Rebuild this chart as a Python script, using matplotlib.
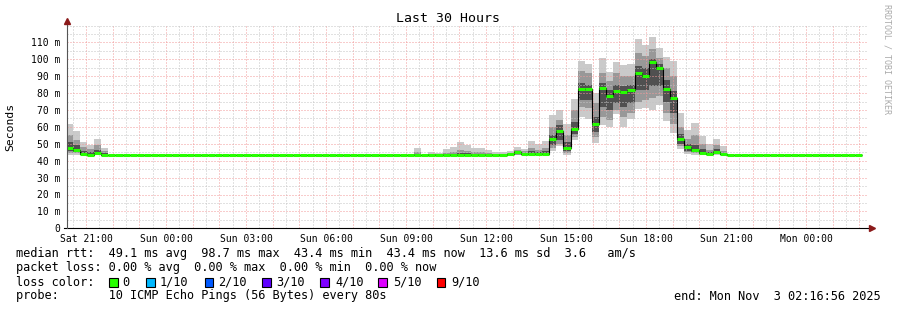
import numpy as np
import matplotlib
matplotlib.use("Agg")
import matplotlib.pyplot as plt
from matplotlib.patches import Rectangle

plt.rcParams["font.family"] = ["DejaVu Sans Mono"]

# --- time axis: hours since Sat 00:00, 30 hours ending Mon 02:16:56 ----------
T_START = 20 + 16 / 60 + 56 / 3600
T_END = T_START + 30
STEP_H = 16 / 60          # 960 s consolidated rows
FIRST_EDGE = 20.5

tick_hours = [21, 24, 27, 30, 33, 36, 39, 42, 45, 48]
tick_labels = ["Sat 21:00", "Sun 00:00", "Sun 03:00", "Sun 06:00", "Sun 09:00",
               "Sun 12:00", "Sun 15:00", "Sun 18:00", "Sun 21:00", "Mon 00:00"]

# --- median rtt per row (ms), 112 rows -------------------------------------
median = ([47.7, 46.3, 43.9, 43.6, 44.6, 43.6]
          + [43.4] * 43
          + [43.4, 43.4, 43.4, 43.4, 43.4, 43.4, 43.4, 43.4, 43.4, 43.4,
             43.4, 43.4, 43.4, 43.8, 45.0, 43.9, 44.0, 44.0, 44.0]
          + [52.8, 57.8, 47.4, 59.0, 82.7, 82.7, 61.6, 83.1, 78.4, 81.0,
             80.7, 81.8, 92.0, 90.2, 98.4, 95.0, 82.5, 76.9, 52.7, 48.2,
             46.3, 44.8, 43.8, 45.1, 43.7]
          + [43.4] * 19)

# --- smoke (rows that have spread), ms -------------------------------------
smoke_rows = [0, 1, 2, 3, 4, 5, 49] + list(range(51, 93))
ping_hi = [61.5, 57.8, 51.3, 49.3, 52.7, 47.3, 47.7,
           45.0, 44.8, 46.9, 47.9, 51.2, 49.3, 47.7, 47.7, 46.3, 45.0, 45.0,
           45.6, 48.1, 47.1, 51.6, 49.9, 51.6,
           67.0, 70.0, 61.7, 76.5, 99.2, 97.0, 79.9, 100.8, 92.5, 98.4,
           96.4, 97.0, 112.0, 108.5, 113.0, 106.5, 101.2, 99.0, 68.0, 58.1,
           62.1, 54.6, 49.9, 53.0, 48.7]
ping_lo = [43.6, 43.6, 43.2, 43.2, 43.3, 43.3, 43.4,
           43.4, 43.4, 43.4, 43.4, 43.4, 43.4, 43.4, 43.4, 43.4, 43.4, 43.4,
           43.4, 43.4, 43.4, 43.4, 43.4, 43.4,
           45.9, 48.7, 43.4, 52.2, 66.0, 64.4, 50.7, 61.1, 60.1, 67.4,
           60.1, 64.8, 70.8, 70.9, 70.0, 73.0, 63.7, 56.6, 47.2, 43.8,
           43.5, 43.4, 43.4, 43.4, 43.4]
mid_hi = [55.0, 52.0, 48.0, 47.0, 49.0, 45.5, 45.0,
          44.0, 44.0, 44.6, 45.0, 46.5, 45.8, 45.0, 45.0, 44.5, 44.0, 44.0,
          44.3, 46.5, 45.5, 47.5, 46.5, 47.5,
          60.0, 64.0, 55.0, 70.0, 93.0, 92.0, 74.0, 92.0, 87.0, 92.0,
          90.0, 90.0, 104.0, 102.0, 106.0, 101.0, 95.0, 90.0, 60.0, 53.0,
          55.0, 50.0, 46.5, 49.0, 46.0]
mid_lo = [44.5, 44.3, 43.5, 43.4, 43.6, 43.4, 43.4,
          43.4, 43.4, 43.4, 43.4, 43.4, 43.4, 43.4, 43.4, 43.4, 43.4, 43.4,
          43.4, 43.6, 43.4, 43.4, 43.4, 43.4,
          47.5, 50.0, 44.5, 54.0, 72.0, 71.0, 54.0, 66.0, 64.0, 70.0,
          66.0, 68.0, 75.0, 76.0, 77.0, 78.0, 68.0, 62.0, 48.5, 45.0,
          44.5, 43.8, 43.5, 43.8, 43.4]
core_hi = [51.0, 49.0, 46.0, 45.0, 46.5, 44.5, 44.0,
           43.7, 43.7, 44.0, 44.2, 44.6, 44.4, 44.2, 44.2, 44.0, 43.7, 43.7,
           43.9, 45.6, 44.5, 45.5, 45.0, 45.5,
           55.5, 61.0, 51.0, 63.0, 86.0, 85.0, 66.0, 86.0, 82.0, 85.0,
           84.0, 85.0, 96.0, 95.0, 100.0, 97.0, 88.0, 81.0, 56.0, 50.0,
           49.0, 47.0, 45.0, 47.0, 44.5]
core_lo = [45.5, 45.0, 43.6, 43.5, 44.0, 43.5, 43.4,
           43.4, 43.4, 43.4, 43.4, 43.4, 43.4, 43.4, 43.4, 43.4, 43.4, 43.4,
           43.4, 44.0, 43.5, 43.6, 43.6, 43.6,
           49.0, 52.0, 45.5, 56.0, 76.0, 76.0, 57.0, 72.0, 70.0, 74.0,
           72.0, 74.0, 82.0, 82.0, 84.0, 84.0, 75.0, 68.0, 50.0, 46.0,
           45.0, 44.0, 43.6, 44.2, 43.5]

# --- legend ----------------------------------------------------------------
loss_labels = ["0", "1/10", "2/10", "3/10", "4/10", "5/10", "9/10"]
loss_colors = ["#26ff00", "#00b8ff", "#0059ff", "#5e00ff", "#7e00ff", "#dd00ff", "#ff0000"]
line_rtt = "median rtt:  49.1 ms avg  98.7 ms max  43.4 ms min  43.4 ms now  13.6 ms sd  3.6   am/s"
line_loss = "packet loss: 0.00 % avg  0.00 % max  0.00 % min  0.00 % now"
line_probe = "probe:       10 ICMP Echo Pings (56 Bytes) every 80s"
line_end = "end: Mon Nov  3 02:16:56 2025"

W, H = 897, 310
fig = plt.figure(figsize=(W / 100, H / 100), dpi=100)
ax = fig.add_axes([67 / W, 1 - 228.3 / H, 800 / W, 202.8 / H])
ax.set_xlim(T_START, T_END)
ax.set_ylim(0, 120)
for s in ax.spines.values():
    s.set_visible(False)

edges = np.concatenate([[T_START], FIRST_EDGE + STEP_H * np.arange(len(median))])
left = edges[smoke_rows]
width = edges[np.array(smoke_rows) + 1] - left

# smoke layers
for lo, hi, col in [(ping_lo, ping_hi, "#cacaca"), (mid_lo, mid_hi, "#989898"),
                    (core_lo, core_hi, "#505050")]:
    ax.bar(left, np.array(hi) - np.array(lo), width=width, bottom=lo,
           align="edge", color=col, linewidth=0, zorder=1)

# grid
GREY, RED = "#c4c4c4", "#f29a9a"
for h in np.arange(20.5, T_END, 0.5):
    ax.axvline(h, color=RED if h % 1 == 0 else GREY, lw=0.72,
               linestyle=(0, (1, 2)), zorder=2)
for v in range(5, 121, 5):
    ax.axhline(v, color=RED if (v % 10 == 0 and v < 120) else GREY, lw=0.72,
               linestyle=(0, (1, 2)), zorder=2)

# median
ax.stairs(median, edges, baseline=None, color="black", lw=0.8, zorder=3)
ax.hlines(median, edges[:-1], edges[1:], color="#26ff00", lw=2.2, zorder=4)

# axes with arrows
ax.plot([-0.004, 1.006], [0, 0], transform=ax.transAxes, color="black",
        lw=0.8, clip_on=False, zorder=5)
ax.plot([0, 0], [0, 1.02], transform=ax.transAxes, color="#555555",
        lw=0.8, clip_on=False, zorder=5)
ax.plot([1.006], [0], transform=ax.transAxes, marker=">", ms=4,
        color="#8b1a1a", clip_on=False, zorder=6)
ax.plot([0], [1.02], transform=ax.transAxes, marker="^", ms=4,
        color="#8b1a1a", clip_on=False, zorder=6)

ax.set_yticks(range(0, 120, 10))
ax.set_yticklabels(["0"] + [f"{v} m" for v in range(10, 120, 10)], fontsize=7)
ax.set_xticks(tick_hours)
ax.set_xticklabels(tick_labels, fontsize=7)
ax.tick_params(axis="y", length=0, pad=5)
ax.tick_params(axis="x", length=0, pad=4)

fig.text(448 / W, 1 - 19 / H, "Last 30 Hours", ha="center", va="center", fontsize=9.5)
fig.text(10 / W, 1 - 127 / H, "Seconds", rotation=90, ha="center", va="center", fontsize=8.2)
fig.text(887 / W, 1 - 59 / H, "RRDTOOL / TOBI OETIKER", rotation=270, ha="center",
         va="center", fontsize=6, color="#aaaaaa")

fs = 8.6
fig.text(16 / W, 1 - 254 / H, line_rtt, va="center", fontsize=fs)
fig.text(16 / W, 1 - 268 / H, line_loss, va="center", fontsize=fs)
fig.text(16 / W, 1 - 282 / H, "loss color:", va="center", fontsize=fs)
fig.text(16 / W, 1 - 296 / H, line_probe, va="center", fontsize=fs)
fig.text(881 / W, 1 - 296 / H, line_end, va="center", ha="right", fontsize=fs)

box_x = [109, 146, 204.5, 262, 320, 378, 436.5]
lab_x = [122, 160, 218, 276.5, 335, 393, 451]
for bx, lx, lab, col in zip(box_x, lab_x, loss_labels, loss_colors):
    fig.add_artist(Rectangle((bx / W, 1 - 286.5 / H), 8.5 / W, 9 / H,
                             transform=fig.transFigure, facecolor=col,
                             edgecolor="black", lw=0.8))
    fig.text(lx / W, 1 - 282 / H, lab, va="center", fontsize=fs)

fig.savefig("out.png", dpi=100, facecolor="white")
